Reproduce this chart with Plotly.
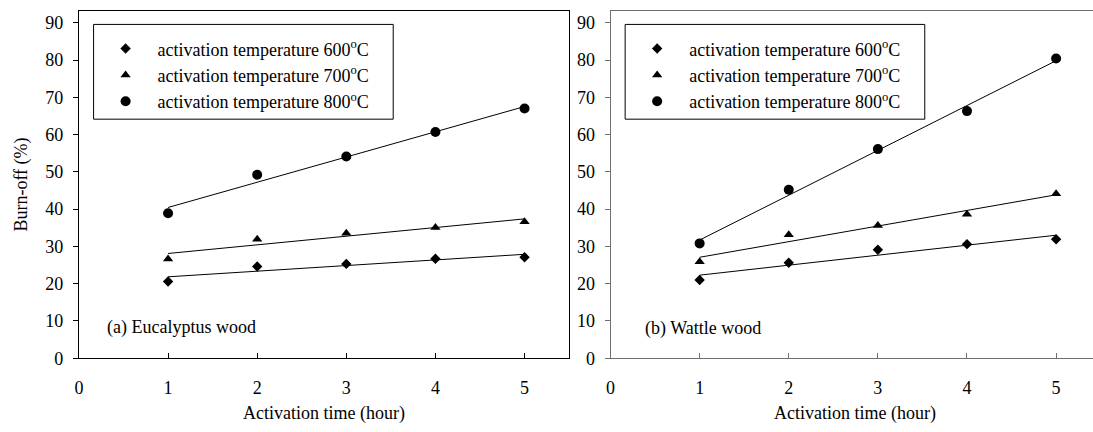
import numpy as np
import plotly.graph_objects as go

# ---------------- data ----------------
time_h = [1, 2, 3, 4, 5]
series_names = ["activation temperature 600<sup>o</sup>C",
                "activation temperature 700<sup>o</sup>C",
                "activation temperature 800<sup>o</sup>C"]

euc_600 = [20.6, 24.6, 25.3, 26.7, 27.1]
euc_700 = [26.6, 31.9, 33.5, 35.1, 36.6]
euc_800 = [38.9, 49.2, 54.1, 60.7, 67.0]

wat_600 = [21.0, 25.6, 29.1, 30.6, 31.9]
wat_700 = [25.9, 33.1, 35.6, 38.6, 44.1]
wat_800 = [30.8, 45.2, 56.1, 66.3, 80.4]

x_ticks = [0, 1, 2, 3, 4, 5]
y_ticks = [0, 10, 20, 30, 40, 50, 60, 70, 80, 90]

# ---------------- style ----------------
FONT = '"Liberation Serif", "Times New Roman", serif'
FS = 18
W, H = 1093, 432
symbols = ["diamond", "triangle-up", "circle"]
sizes = [8, 9, 10]

fig = go.Figure()

panels = [
    ("x", "y", "legend", [euc_600, euc_700, euc_800]),
    ("x2", "y2", "legend2", [wat_600, wat_700, wat_800]),
]

for xa, ya, lg, data in panels:
    for i, vals in enumerate(data):
        # trend line (least-squares fit of the data)
        k, b = np.polyfit(time_h, vals, 1)
        fit = [k * t + b for t in time_h]
        fig.add_trace(go.Scatter(
            x=time_h, y=fit, mode="lines", xaxis=xa, yaxis=ya,
            line=dict(color="black", width=1), showlegend=False,
            hoverinfo="skip"))
    for i, vals in enumerate(data):
        fig.add_trace(go.Scatter(
            x=time_h, y=vals, mode="markers", xaxis=xa, yaxis=ya,
            name=series_names[i], legend=lg, legendgroup=f"{lg}{i}",
            marker=dict(symbol=symbols[i], size=sizes[i], color="black",
                        line=dict(width=0))))

# geometry (px)
L1, R1 = 74.3, 566.7
L2 = 608.3
TOP, BOT = 11.7, 366.7
pxu = (R1 - L1) / 5.5
x2max = (W - L2) / pxu
ymax = (BOT - TOP) / ((BOT - 23.3) / 90)

ydom = [(H - BOT) / H, (H - TOP) / H]

def xaxis(dom, rng, color, mirror):
    return dict(domain=dom, range=rng, tickvals=x_ticks, ticks="inside",
                ticklen=5, tickcolor=color, showline=True, linecolor=color,
                linewidth=1, mirror=mirror, showgrid=False, zeroline=False,
                tickfont=dict(family=FONT, size=FS, color="black"),
                ticklabelstandoff=13)

def yaxis(dom, anchor, color, mirror):
    return dict(domain=dom, range=[0, ymax], tickvals=y_ticks, ticks="outside",
                ticklen=5, tickcolor=color, showline=True, linecolor=color,
                linewidth=1, mirror=mirror, showgrid=False, zeroline=False,
                anchor=anchor,
                tickfont=dict(family=FONT, size=FS, color="black"),
                ticklabelstandoff=6)

legend_common = dict(
    bgcolor="rgba(0,0,0,0)", borderwidth=0,
    font=dict(family=FONT, size=FS, color="black"),
    xanchor="left", yanchor="top", itemwidth=54,
    traceorder="grouped", tracegroupgap=0,
)

# legend frames (paper px)
LEG_TOP, LEG_BOT = 25, 122
leg_frames = [(89, 390), (623, 924)]
shapes = [dict(type="rect", xref="paper", yref="paper",
               x0=a / W, x1=b / W, y0=1 - LEG_BOT / H, y1=1 - LEG_TOP / H,
               line=dict(color="black", width=1), fillcolor="white", layer="below")
          for a, b in leg_frames]

fig.update_layout(
    width=W, height=H,
    margin=dict(l=0, r=0, t=0, b=0),
    paper_bgcolor="white", plot_bgcolor="white",
    font=dict(family=FONT, size=FS, color="black"),
    xaxis=xaxis([L1 / W, R1 / W], [0, 5.5], "black", True),
    yaxis=yaxis(ydom, "x", "black", True),
    xaxis2=xaxis([L2 / W, 1.0], [0, x2max], "#6e6e6e", True),
    yaxis2=yaxis(ydom, "x2", "#6e6e6e", False),
    legend=dict(x=89 / W, y=1 - 31 / H, **legend_common),
    legend2=dict(x=623 / W, y=1 - 31 / H, **legend_common),
    showlegend=True,
    shapes=shapes,
    annotations=[
        dict(text="(a) Eucalyptus wood", x=0.29, y=8.2, xref="x", yref="y",
             xanchor="left", yanchor="middle", showarrow=False,
             font=dict(family=FONT, size=FS)),
        dict(text="(b) Wattle wood", x=0.36, y=7.9, xref="x2", yref="y2",
             xanchor="left", yanchor="middle", showarrow=False,
             font=dict(family=FONT, size=FS)),
        dict(text="Activation time (hour)", x=(L1 + R1) / 2 / W, y=1 - 423 / H,
             xref="paper", yref="paper", xanchor="center", yanchor="middle",
             showarrow=False, font=dict(family=FONT, size=FS)),
        dict(text="Activation time (hour)", x=854 / W, y=1 - 423 / H,
             xref="paper", yref="paper", xanchor="center", yanchor="middle",
             showarrow=False, font=dict(family=FONT, size=FS)),
        dict(text="Burn-off (%)", x=17 / W, y=1 - 189 / H, textangle=-90,
             xref="paper", yref="paper", xanchor="center", yanchor="middle",
             showarrow=False, font=dict(family=FONT, size=FS)),
    ],
)

fig.write_html("out.html")
